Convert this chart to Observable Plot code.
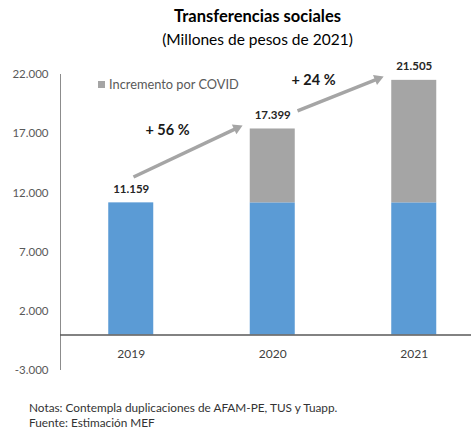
<!DOCTYPE html>
<html>
<head>
<meta charset="utf-8">
<script src="https://cdn.jsdelivr.net/npm/d3@7"></script>
<script src="https://cdn.jsdelivr.net/npm/@observablehq/plot@0.6"></script>
<style>
  html, body { margin: 0; padding: 0; background: #fff; }
  body { width: 471px; height: 432px; position: relative; overflow: hidden; font-family: Lato, "Open Sans", sans-serif; }
  .title { position: absolute; left: 22px; width: 471px; text-align: center; color: #000; }
  #t1 { top: 6px; font-size: 16.5px; font-weight: bold; }
  #t2 { top: 30px; font-size: 15.5px; }
  #chart { position: absolute; left: 0; top: 56px; }
  #legend { position: absolute; left: 98px; top: 76px; font-size: 12.8px; color: #595959; display: flex; align-items: center; }
  #legend span.sw { display: inline-block; width: 7px; height: 7px; background: #a5a5a5; margin-right: 4px; }
  #notes { position: absolute; left: 29px; top: 401px; font-size: 11.8px; color: #333; line-height: 14.5px; }
</style>
</head>
<body>
<div class="title" id="t1">Transferencias sociales</div>
<div class="title" id="t2">(Millones de pesos de 2021)</div>
<div id="chart"></div>
<div id="legend"><span class="sw"></span><span>Incremento por COVID</span></div>
<div id="notes">Notas: Contempla duplicaciones de AFAM-PE, TUS y Tuapp.<br>Fuente: Estimación MEF</div>
<script>
const years = [2019, 2020, 2021];
const baseValues = [11159, 11159, 11159];
const covidValues = [0, 6240, 10346];
const totals = [11159, 17399, 21505];
const yTicks = [-3000, 2000, 7000, 12000, 17000, 22000];
const growthLabels = ["+ 56 %", "+ 24 %"];
const growthX = [2019.256, 2020.288];
const growthY = [17314, 21537];
const arrowX1 = [2019.016, 2020.175];
const arrowY1 = [13345, 18919];
const arrowX2 = [2019.747, 2020.743];
const arrowY2 = [17475, 21630];
const arrowRotate = [64.7, 68.2];

const halfW = 0.159;
const fmt = d => d3.format(",")(d).replace(/,/g, ".").replace("−", "-");

const bars = years.flatMap((y, i) => [
  {year: y, part: "base", y1: 0, y2: baseValues[i]},
  {year: y, part: "covid", y1: baseValues[i], y2: baseValues[i] + covidValues[i]}
]).filter(d => d.y2 > d.y1);

const arrows = arrowX1.map((x, i) => ({x1: x, y1: arrowY1[i], x2: arrowX2[i], y2: arrowY2[i], rot: arrowRotate[i]}));
const growth = growthLabels.map((t, i) => ({t, x: growthX[i], y: growthY[i]}));
const totalData = years.map((y, i) => ({year: y, total: totals[i]}));

const chart = Plot.plot({
  width: 471,
  height: 324,
  marginTop: 18,
  marginBottom: 10,
  marginLeft: 60,
  marginRight: 0,
  style: {fontFamily: "Lato, 'Open Sans', sans-serif", background: "transparent"},
  x: {type: "linear", domain: [2018.5, 2021.5], range: [60, 484.5], axis: null},
  y: {domain: [-3000, 22000], ticks: yTicks, tickFormat: fmt, tickSize: 0, tickPadding: 12, label: null},
  marks: [
    Plot.axisY({ticks: yTicks, tickFormat: fmt, tickSize: 0, tickPadding: 12, label: null, fontSize: 11.5, color: "#595959"}),
    Plot.ruleX([2018.5], {y1: -3000, y2: 22000, stroke: "#8c8c8c", strokeWidth: 1}),
    Plot.rectY(bars, {
      x1: d => d.year - halfW, x2: d => d.year + halfW, y1: "y1", y2: "y2",
      fill: d => d.part === "base" ? "#5b9bd5" : "#a5a5a5"
    }),
    Plot.ruleY([0], {stroke: "#595959", strokeWidth: 1.5}),
    Plot.text(totalData, {x: "year", y: "total", text: d => fmt(d.total), dy: -14, fontSize: 11.5, fontWeight: "bold", fill: "#262626"}),
    Plot.text(years, {x: d => d, y: 0, text: d => String(d), dy: 19, fontSize: 12, fill: "#404040"}),
    Plot.link(arrows, {x1: "x1", y1: "y1", x2: "x2", y2: "y2", stroke: "#a5a5a5", strokeWidth: 3.5}),
    Plot.dot(arrows, {x: "x2", y: "y2", symbol: "triangle", r: 4, fill: "#a5a5a5", stroke: "none", rotate: "rot"}),
    Plot.text(growth, {x: "x", y: "y", text: "t", fontSize: 14.5, fontWeight: "bold", fill: "#1a1a1a"})
  ]
});
document.getElementById("chart").appendChild(chart);
</script>
</body>
</html>
